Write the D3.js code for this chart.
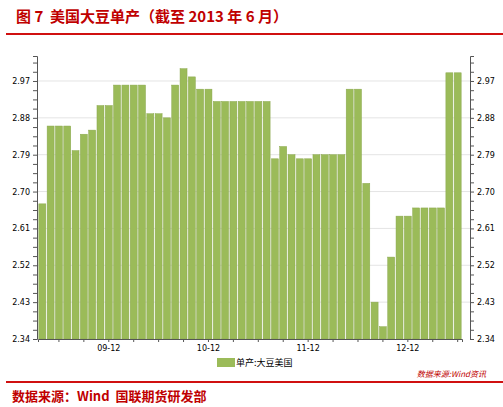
<!DOCTYPE html>
<html><head><meta charset="utf-8">
<script src="https://cdn.jsdelivr.net/npm/d3@7"></script>
<style>body{margin:0;background:#fff} text{white-space:pre}</style></head>
<body><svg id="c" width="503" height="407"></svg>
<script>
const months = d3.range(51).map(i => { const d = new Date(2009, 3 + i, 1); return d; });
const values = [2.67,2.86,2.86,2.86,2.80,2.84,2.85,2.91,2.91,2.96,2.96,2.96,2.96,2.89,2.89,2.88,2.96,3.00,2.98,2.95,2.95,2.92,2.92,2.92,2.92,2.92,2.92,2.92,
2.78,2.81,2.79,2.78,2.78,2.79,2.79,2.79,2.79,2.95,2.95,2.72,2.43,2.37,2.54,2.64,2.64,2.66,2.66,2.66,2.66,2.99,2.99];
const yTicks = [2.34,2.43,2.52,2.61,2.70,2.79,2.88,2.97];
const seriesName = "单产:大豆美国";

const svg = d3.select("#c");
const L = 37, R = 470, T = 56, B = 339;
const x = d3.scaleBand().domain(d3.range(values.length)).range([L+1, R-8]).paddingInner(0.16).paddingOuter(0.1);
const y = d3.scaleLinear().domain([2.34, 3.031]).range([B, T]);

svg.append("text").attr("x",16).attr("y",22).attr("fill","#c00000").attr("font-weight","bold")
  .attr("font-family","Noto Sans CJK SC, serif").attr("font-size",15).text("图 7  美国大豆单产（截至 2013 年 6 月）");
svg.append("line").attr("x1",6).attr("x2",503).attr("y1",34).attr("y2",34).attr("stroke","#d01010").attr("stroke-width",2);
svg.append("line").attr("x1",6).attr("x2",503).attr("y1",382).attr("y2",382).attr("stroke","#d01010").attr("stroke-width",2);

svg.append("g").selectAll("line").data(yTicks.slice(1)).join("line")
  .attr("x1",L).attr("x2",R).attr("y1",d=>y(d)).attr("y2",d=>y(d)).attr("stroke","#e4e4e4");

svg.append("g").selectAll("rect").data(values).join("rect")
  .attr("x",(d,i)=>x(i)).attr("width",x.bandwidth()).attr("y",d=>y(d)).attr("height",d=>B-y(d))
  .attr("fill","#9bbb59").attr("stroke","#8aa84c").attr("stroke-width",0.5);

const minor = d3.range(0,32).map(k=>2.34+k*0.0225).filter(v=>v<=3.03);
const fmt = d3.format(".2f");
const lab = d=>yTicks.some(t=>Math.abs(t-d)<1e-6)?fmt(d):"";
const yl = d3.axisLeft(y).tickValues(minor).tickSize(4).tickFormat(lab);
const yr = d3.axisRight(y).tickValues(minor).tickSize(4).tickFormat(lab);
[svg.append("g").attr("transform",`translate(${L},0)`).call(yl),
 svg.append("g").attr("transform",`translate(${R},0)`).call(yr)].forEach(g=>{
  g.select(".domain").attr("stroke","#555");
  g.selectAll(".tick line").attr("stroke","#555");
  g.selectAll("text").attr("font-size",8).attr("font-family","DejaVu Sans").attr("fill","#000");
});
const xa = svg.append("g").attr("transform",`translate(0,${B})`)
  .call(d3.axisBottom(x).tickValues(d3.range(2,51,3)).tickSize(3)
  .tickFormat(i=>{const d=months[i]; return d.getMonth()==11? String(d.getFullYear()%100).padStart(2,"0")+"-12":"";}));
xa.select(".domain").attr("stroke","#555");
xa.selectAll(".tick line").attr("stroke","#555");
xa.selectAll("text").attr("font-size",8).attr("font-family","DejaVu Sans").attr("fill","#000");

svg.append("rect").attr("x",217).attr("y",358).attr("width",18).attr("height",9).attr("fill","#9bbb59");
svg.append("text").attr("x",236).attr("y",366).attr("font-size",9).attr("font-family","Noto Sans CJK SC").text(seriesName);
svg.append("text").attr("x",486).attr("y",377).attr("text-anchor","end").attr("font-size",8).attr("font-style","italic")
  .attr("fill","#c00000").attr("font-family","Noto Sans CJK SC").text("数据来源:Wind资讯");
svg.append("text").attr("x",12).attr("y",401).attr("fill","#c00000").attr("font-weight","bold")
  .attr("font-family","Noto Sans CJK SC, serif").attr("font-size",13).text("数据来源：Wind  国联期货研发部");
</script></body></html>
